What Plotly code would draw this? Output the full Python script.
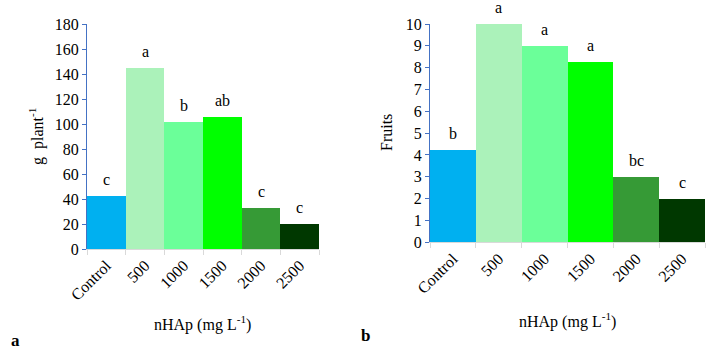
import plotly.graph_objects as go

categories = ["Control", "500", "1000", "1500", "2000", "2500"]
weight_values = [42.5, 144.5, 101.5, 105.5, 33, 20]
weight_letters = ["c", "a", "b", "ab", "c", "c"]
fruit_values = [4.23, 10.0, 9.0, 8.27, 3.0, 2.0]
fruit_letters = ["b", "a", "a", "a", "bc", "c"]
bar_colors = ["#00B0F0", "#ABF2BA", "#6BFF99", "#00FF00", "#369A36", "#003800"]

FONT = "Liberation Serif"
FS = 16
fig = go.Figure()

fig.add_trace(go.Bar(x=categories, y=weight_values, marker=dict(color=bar_colors, line=dict(width=0)),
                     xaxis="x", yaxis="y", showlegend=False))
fig.add_trace(go.Bar(x=categories, y=fruit_values, marker=dict(color=bar_colors, line=dict(width=0)),
                     xaxis="x2", yaxis="y2", showlegend=False))

annotations = []
for i, (v, t) in enumerate(zip(weight_values, weight_letters)):
    annotations.append(dict(x=i, y=v, xref="x", yref="y", text=t, showarrow=False,
                            yanchor="bottom", yshift=6, font=dict(family=FONT, size=FS, color="black")))
for i, (v, t) in enumerate(zip(fruit_values, fruit_letters)):
    annotations.append(dict(x=i, y=v, xref="x2", yref="y2", text=t, showarrow=False,
                            yanchor="bottom", yshift=6, font=dict(family=FONT, size=FS, color="black")))

annotations += [
    dict(x=202/714, y=1-323/355, xref="paper", yref="paper", text="nHAp (mg L<sup>-1</sup>)",
         showarrow=False, xanchor="center", yanchor="middle", font=dict(family=FONT, size=FS, color="black")),
    dict(x=567/714, y=1-320/355, xref="paper", yref="paper", text="nHAp (mg L<sup>-1</sup>)",
         showarrow=False, xanchor="center", yanchor="middle", font=dict(family=FONT, size=FS, color="black")),
    dict(x=37/714, y=1-137/355, xref="paper", yref="paper", text="g  plant<sup>-1</sup>", textangle=-90,
         showarrow=False, xanchor="center", yanchor="middle", font=dict(family=FONT, size=FS, color="black")),
    dict(x=387/714, y=1-133/355, xref="paper", yref="paper", text="Fruits", textangle=-90,
         showarrow=False, xanchor="center", yanchor="middle", font=dict(family=FONT, size=FS, color="black")),
    dict(x=15/714, y=1-340/355, xref="paper", yref="paper", text="<b>a</b>",
         showarrow=False, xanchor="center", yanchor="middle", font=dict(family=FONT, size=17, color="black")),
    dict(x=366/714, y=1-335/355, xref="paper", yref="paper", text="<b>b</b>",
         showarrow=False, xanchor="center", yanchor="middle", font=dict(family=FONT, size=17, color="black")),
]

xcommon = dict(type="category", range=[-0.5, 5.5], showline=True, linecolor="#D9D9D9", linewidth=1,
               ticks="outside", tickson="boundaries", ticklen=5, tickcolor="#D9D9D9",
               tickangle=-45, tickfont=dict(family=FONT, size=FS, color="black"),
               showgrid=False, zeroline=False, fixedrange=True, automargin=False)
ycommon = dict(showline=True, linecolor="#4472C4", linewidth=1, ticks="outside", ticklen=4,
               tickcolor="#4472C4", tickfont=dict(family=FONT, size=FS, color="black"),
               showgrid=False, zeroline=False, fixedrange=True, automargin=False)

fig.update_layout(
    width=714, height=355, margin=dict(l=0, r=0, t=0, b=0),
    paper_bgcolor="white", plot_bgcolor="white", bargap=0,
    xaxis=dict(domain=[87/714, 319/714], anchor="y", **xcommon),
    yaxis=dict(domain=[1-249/355, 1-24/355], anchor="x", range=[0, 180], dtick=20, **ycommon),
    xaxis2=dict(domain=[430/714, 705/714], anchor="y2", **xcommon),
    yaxis2=dict(domain=[1-242.3/355, 1-24/355], anchor="x2", range=[0, 10], dtick=1, **ycommon),
    annotations=annotations,
)

fig.write_html("out.html", config={"displayModeBar": False},
               post_script="document.body.style.margin='0';document.body.style.overflow='hidden';")
